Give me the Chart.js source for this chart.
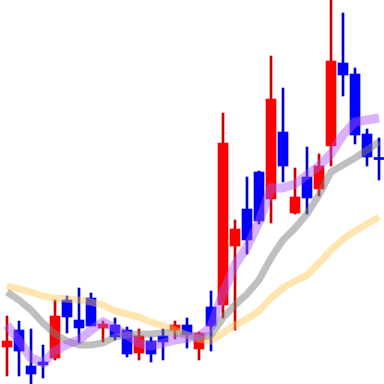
<!DOCTYPE html>
<html>
<head>
<meta charset="utf-8">
<script src="https://cdn.jsdelivr.net/npm/chart.js@4/dist/chart.umd.min.js"></script>
<style>
html,body{margin:0;padding:0;background:#fff;overflow:hidden;}
canvas{display:block;}
</style>
</head>
<body>
<canvas id="c" width="384" height="384"></canvas>
<script>
// Candle values (price units, higher = up)
const opens  = [37, 54, 18, 22, 26, 84, 64, 86, 56, 59, 54, 31, 43, 48, 54, 59, 35, 77, 79, 138, 175, 212, 185, 252, 171, 207, 195, 238, 321, 310, 250, 226.5];
const closes = [43, 33, 10, 19, 68, 67, 56, 58, 60, 47, 30, 48, 30, 42, 59, 49, 51, 58, 241, 155, 144, 163, 285, 218, 187, 186, 218, 323, 309, 249, 227, 224.5];
const highs  = [68, 63, 55, 39, 84, 88, 96, 91, 63, 66, 57, 55, 47, 55, 63, 66, 52, 93, 271, 164, 207, 213, 328, 296, 216, 237, 230, 390, 371, 316, 255, 246];
const lows   = [8, 8, 0, 6, 24, 51, 41, 58, 42, 44, 27, 24, 22, 24, 45, 36, 24, 33, 66, 54, 130, 160, 161, 202, 170, 170, 188, 218, 288, 240, 218, 204];
// Moving averages (price units)
const maShort = [59, 43, 26, 21, 33, 40, 44, 54, 62, 56, 49, 41, 38, 41, 44, 46, 48, 57, 91, 119, 137, 162, 196, 196, 200, 209, 218, 230, 249, 262, 264, 266];
const maMid   = [92, 84, 74, 61, 50, 43, 39, 39, 41, 47, 49, 50, 50, 51, 51, 49, 46, 49, 66, 79, 90, 104, 126, 144, 156, 170, 189, 212, 219, 226, 234, 242];
const maLong  = [98, 95, 92, 88, 86, 85, 84, 82, 79, 73, 70, 67, 62, 58, 54, 49, 45, 43, 51, 59, 65, 73, 86, 96, 103, 109, 121, 134, 145, 153, 160, 167];

const up = opens.map((o, i) => closes[i] >= o);
const bodyColors = up.map(u => u ? '#ff0000' : '#0000ff');
const wickColors = up.map(u => u ? '#cc0000' : '#0000cc');

const bodyData = opens.map((o, i) => ({x: i, y: [Math.min(o, closes[i]), Math.max(o, closes[i])]}));
const wickData = highs.map((h, i) => ({x: i, y: [lows[i], h]}));
const toPts = arr => arr.map((v, i) => ({x: i, y: v}));

new Chart(document.getElementById('c'), {
  data: {
    datasets: [
      {type: 'line', data: toPts(maShort), borderColor: 'rgba(170,85,255,0.45)', borderWidth: 9, pointRadius: 0, tension: 0, borderCapStyle: 'butt', order: 0},
      {type: 'line', data: toPts(maMid), borderColor: 'rgba(128,128,128,0.5)', borderWidth: 7, pointRadius: 0, tension: 0, borderCapStyle: 'butt', order: 1},
      {type: 'line', data: toPts(maLong), borderColor: 'rgba(255,200,80,0.45)', borderWidth: 7, pointRadius: 0, tension: 0, borderCapStyle: 'butt', order: 2},
      {type: 'bar', data: bodyData, backgroundColor: bodyColors, borderWidth: 0, barThickness: 10, grouped: false, order: 3},
      {type: 'bar', data: wickData, backgroundColor: wickColors, borderWidth: 0, barThickness: 2, grouped: false, order: 4}
    ]
  },
  options: {
    responsive: false,
    animation: false,
    devicePixelRatio: 1,
    layout: {padding: 0},
    plugins: {legend: {display: false}, tooltip: {enabled: false}},
    scales: {
      x: {type: 'linear', min: -7/12, max: 32 - 7/12, offset: false, display: false},
      y: {type: 'linear', min: 0, max: 384, display: false}
    }
  }
});
</script>
</body>
</html>
